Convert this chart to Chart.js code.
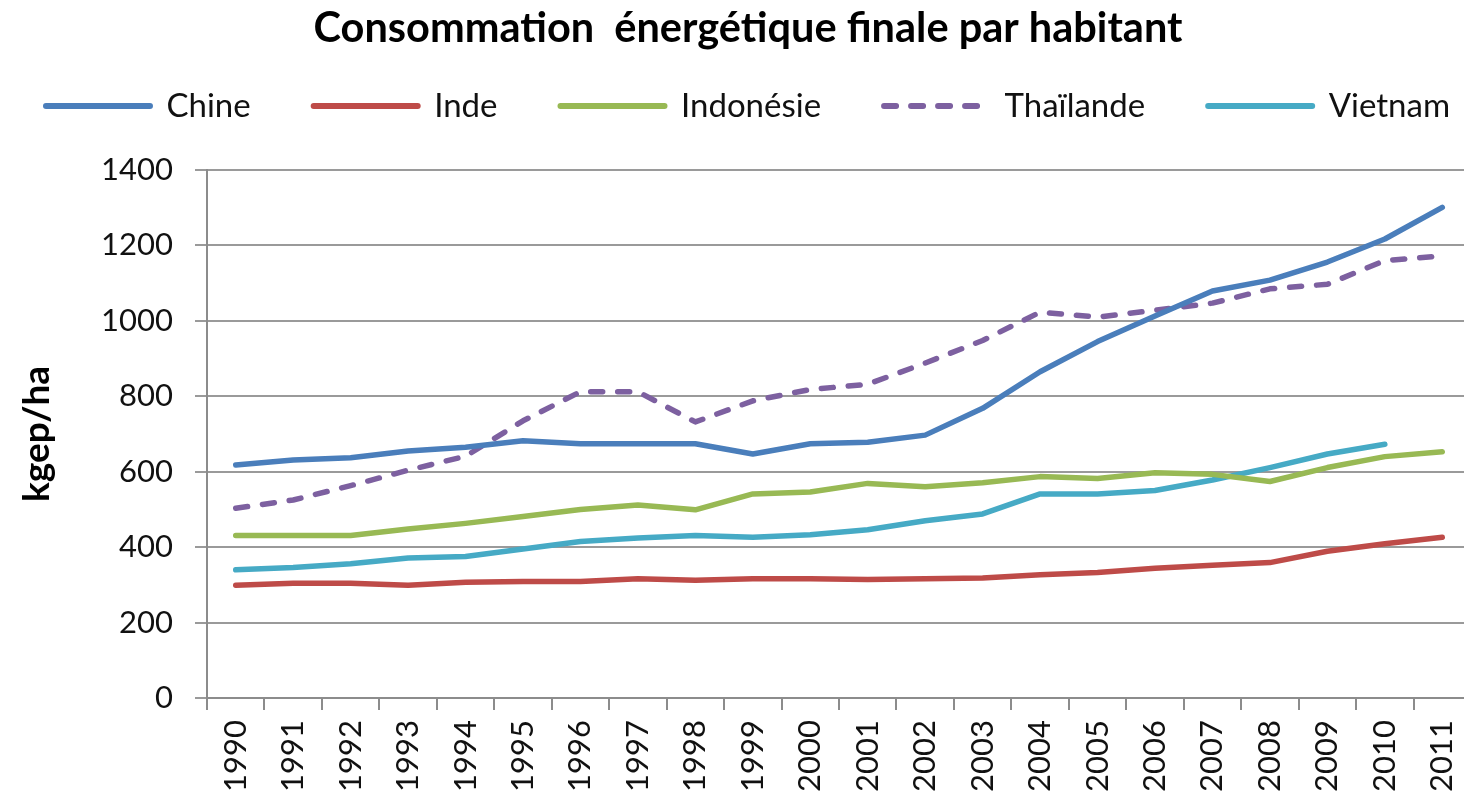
<!DOCTYPE html>
<html>
<head>
<meta charset="utf-8">
<script src="https://cdn.jsdelivr.net/npm/chart.js@4/dist/chart.umd.min.js"></script>
<style>
html,body{margin:0;padding:0;background:#fff;overflow:hidden;}
#wrap{position:absolute;left:0;top:0;width:1496px;height:799px;}
</style>
</head>
<body>
<div id="wrap"><canvas id="c" width="1496" height="799"></canvas></div>
<script>
const years = ["1990","1991","1992","1993","1994","1995","1996","1997","1998","1999","2000","2001","2002","2003","2004","2005","2006","2007","2008","2009","2010","2011"];
const chine = [618,631,637,655,665,682,674,674,674,647,674,678,697,768,865,945,1013,1079,1108,1156,1217,1301];
const inde = [299,304,304,299,307,309,309,316,312,316,316,314,316,318,327,333,344,352,359,389,409,426];
const indonesie = [431,431,431,448,463,481,500,512,499,541,546,569,560,571,587,582,597,593,574,611,640,653];
const thailande = [503,525,563,604,641,735,812,812,732,788,818,832,888,948,1023,1010,1028,1047,1085,1097,1160,1172];
const vietnam = [340,346,356,371,375,395,415,424,431,426,433,446,470,488,541,541,550,578,611,647,673,null];
const yTicks = [0,200,400,600,800,1000,1200,1400];

const FONT = "Lato";
const LEGEND_H = 143.5;

function ds(label, data, color, dash) {
  return {
    label, data, borderColor: color, backgroundColor: color,
    borderWidth: 5.5, pointRadius: 0, tension: 0, fill: false,
    borderDash: dash || [], borderCapStyle: 'round', borderJoinStyle: 'round',
    spanGaps: false
  };
}

// keep the legend on a single row (the original legend is wider than Chart.js allows by default)
const legendFitPatch = {
  id: 'legendFitPatch',
  beforeUpdate(chart) {
    const lg = chart.legend;
    if (lg && !lg._patched) {
      const origFit = lg.fit.bind(lg);
      lg.fit = function () {
        const mw = this.maxWidth;
        this.maxWidth = 4000;
        origFit();
        this.maxWidth = mw;
        this.width = mw;
        this.height = LEGEND_H;
      };
      const origDraw = lg._draw.bind(lg);
      lg._draw = function () {
        const l = this.left, r = this.right, d = 200;
        this.left = l - d; this.right = r + d;
        origDraw();
        this.left = l; this.right = r;
      };
      lg._patched = true;
    }
  }
};

new Chart(document.getElementById('c'), {
  type: 'line',
  data: {
    labels: years,
    datasets: [
      ds('Chine', chine, '#4A7EBB'),
      ds('Inde', inde, '#BE4B48'),
      ds('Indonésie', indonesie, '#98B954'),
      ds('Thaïlande', thailande, '#7D60A0', [12, 15]),
      ds('Vietnam', vietnam, '#46AAC5')
    ]
  },
  plugins: [legendFitPatch],
  options: {
    responsive: false,
    animation: false,
    layout: { padding: { left: 0, right: 0, top: 0, bottom: 0 } },
    plugins: {
      title: {
        display: true,
        text: 'Consommation  énergétique finale par habitant',
        font: { family: FONT, size: 41.5, weight: 'bold', lineHeight: 1.2 },
        color: '#000',
        padding: { top: 3.5, bottom: -26.8 }
      },
      legend: {
        position: 'top',
        labels: {
          usePointStyle: true,
          pointStyle: 'line',
          pointStyleWidth: 104,
          boxHeight: 14,
          padding: 63,
          color: '#111',
          font: { family: FONT, size: 33 },
          generateLabels: (chart) => {
            const items = Chart.defaults.plugins.legend.labels.generateLabels(chart);
            items.forEach(it => {
              const d = chart.data.datasets[it.datasetIndex];
              it.lineDash = d.borderDash || [];
              it.lineCap = 'round';
              it.lineWidth = 6;
              it.strokeStyle = d.borderColor;
            });
            return items;
          }
        }
      },
      tooltip: { enabled: false }
    },
    scales: {
      x: {
        offset: true,
        grid: { display: true, drawOnChartArea: false, offset: true, tickLength: 12, color: '#8c8c8c', lineWidth: 2 },
        border: { display: true, color: '#8c8c8c', width: 2 },
        ticks: { minRotation: 90, maxRotation: 90, color: '#111', padding: 10, font: { family: FONT, size: 31 } },
        afterFit: (s) => { s.height = 101; }
      },
      y: {
        min: 0, max: 1400,
        afterBuildTicks: (s) => { s.ticks = yTicks.map(v => ({ value: v })); },
        grid: { color: '#9a9a9a', lineWidth: 2, tickLength: 12 },
        border: { display: true, color: '#8c8c8c', width: 2 },
        ticks: { color: '#111', padding: 22, font: { family: FONT, size: 31 }, callback: (v) => String(v) },
        title: { display: true, text: 'kgep/ha', color: '#000', font: { family: FONT, size: 37, weight: 'bold' }, padding: { top: 15, bottom: 0 } },
        afterFit: (s) => { s.width = 207; }
      },
      yRight: {
        position: 'right',
        min: 0, max: 1400,
        grid: { display: false, drawOnChartArea: false },
        border: { display: false },
        ticks: { display: false },
        afterFit: (s) => { s.width = 25; }
      }
    }
  }
});
</script>
</body>
</html>
